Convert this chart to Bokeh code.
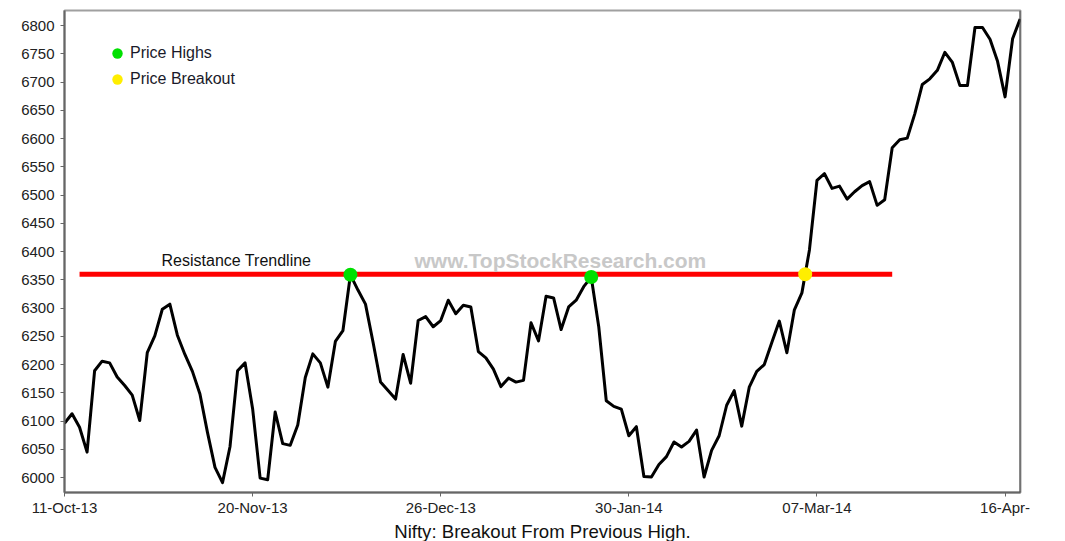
import numpy as np
from bokeh.plotting import figure
from bokeh.models import Range1d, FixedTicker, Label, Span, Legend, LegendItem, Title
from bokeh.embed import file_html
from bokeh.resources import INLINE

# ---- data ----
tick_index = [0, 25, 50, 75, 100, 125]
tick_labels = ["11-Oct-13", "20-Nov-13", "26-Dec-13", "30-Jan-14", "07-Mar-14", "16-Apr-"]

nifty_close = [
    6096, 6113, 6089, 6045, 6189, 6206, 6203, 6178, 6163, 6146,
    6101, 6221, 6251, 6298, 6307, 6252, 6218, 6188, 6148, 6080,
    6018, 5991, 6055, 6189, 6203, 6122, 5999, 5996, 6116, 6060,
    6057, 6093, 6177, 6219, 6203, 6160, 6241, 6260, 6359, 6332,
    6307, 6240, 6169, 6154, 6139, 6218, 6167, 6278, 6285, 6267,
    6278, 6314, 6290, 6305, 6302, 6223, 6212, 6192, 6161, 6176,
    6169, 6172, 6274, 6242, 6321, 6318, 6262, 6302, 6314, 6338,
    6355, 6267, 6136, 6126, 6121, 6074, 6090, 6002, 6001, 6023,
    6037, 6063, 6054, 6064, 6084, 6001, 6048, 6074, 6128, 6154,
    6091, 6160, 6188, 6200, 6239, 6277, 6221, 6297, 6327, 6403,
    6526, 6538, 6512, 6516, 6493, 6506, 6517, 6524, 6482, 6492,
    6584, 6598, 6601, 6644, 6696, 6706, 6721, 6753, 6735, 6694,
    6694, 6797, 6797, 6776, 6737, 6674, 6777, 6812,
]
resistance_level = 6360
resistance_span = [2, 110]
price_high_index = [38, 70]
breakout_after_index = 98

# ---- derived ----
day = list(range(len(nifty_close)))
highs_x = price_high_index
highs_y = [nifty_close[i] for i in price_high_index]
a, b = nifty_close[breakout_after_index], nifty_close[breakout_after_index + 1]
bo_x = [breakout_after_index + (resistance_level - a) / (b - a)]
bo_y = [resistance_level]

x_end = len(nifty_close) - 1 + 0.05

p = figure(width=1065, height=541,
           x_range=Range1d(0, x_end),
           y_range=Range1d(5973.5, 6827),
           output_backend="svg", toolbar_location=None,
           min_border_left=64, min_border_right=45, min_border_top=10, min_border_bottom=0)
p.background_fill_color = "white"
p.border_fill_color = "white"
p.outline_line_color = "#a0a0a0"
p.outline_line_width = 2
p.xgrid.visible = False
p.ygrid.visible = False

# axes
p.xaxis.ticker = FixedTicker(ticks=tick_index)
p.xaxis.major_label_overrides = {i: l for i, l in zip(tick_index, tick_labels)}
p.yaxis.ticker = FixedTicker(ticks=list(range(6000, 6801, 50)))
for ax in (p.xaxis[0], p.yaxis[0]):
    ax.axis_line_color = "#666666"
    ax.axis_line_width = 2
    ax.major_tick_line_color = "#666666"
    ax.major_tick_in = 0
    ax.major_tick_out = 4
    ax.minor_tick_line_color = None
    ax.major_label_text_font = "Liberation Sans"
    ax.major_label_text_color = "#222222"
    ax.major_label_text_font_size = "15px"
p.xaxis.major_label_standoff = 2
p.yaxis.major_label_standoff = 6

# chart caption under the axis
p.add_layout(Title(text="Nifty: Breakout From Previous High.", align="center",
                   text_font="Liberation Sans", text_font_style="normal",
                   text_font_size="18.6px", text_color="#111111", standoff=0), "below")

p.add_layout(Span(location=x_end, dimension="height", line_color="#444444", line_width=2))

# resistance line
p.line(x=resistance_span, y=[resistance_level, resistance_level], line_color="#ff0000", line_width=5)

# price line
p.line(x=day, y=nifty_close, line_color="black", line_width=3, line_join="round")

# markers
g = p.scatter(x=highs_x, y=highs_y, size=14, fill_color="#00e000", line_color=None)
yb = p.scatter(x=bo_x, y=bo_y, size=14, fill_color="#ffee00", line_color=None)

legend = Legend(items=[LegendItem(label="Price Highs", renderers=[g]),
                       LegendItem(label="Price Breakout", renderers=[yb])],
                location=(40, 400), orientation="vertical",
                glyph_width=26, glyph_height=26, spacing=-2, padding=0, margin=0,
                label_standoff=0, label_text_font="Liberation Sans",
                label_text_font_size="16px", label_text_color="#1a1a2a",
                background_fill_alpha=0, border_line_color=None)
p.add_layout(legend)

p.add_layout(Label(x=12.9, y=6384, text="Resistance Trendline", text_align="left",
                   text_baseline="middle", text_font="Liberation Sans",
                   text_font_size="16px", text_color="#111111"))
p.add_layout(Label(x=65.9, y=6384, text="www.TopStockResearch.com", text_align="center",
                   text_baseline="middle", text_font="Liberation Sans", text_font_style="bold",
                   text_font_size="21px", text_color="#c8c8c8"))

open("out.html", "w").write(file_html(p, INLINE))
